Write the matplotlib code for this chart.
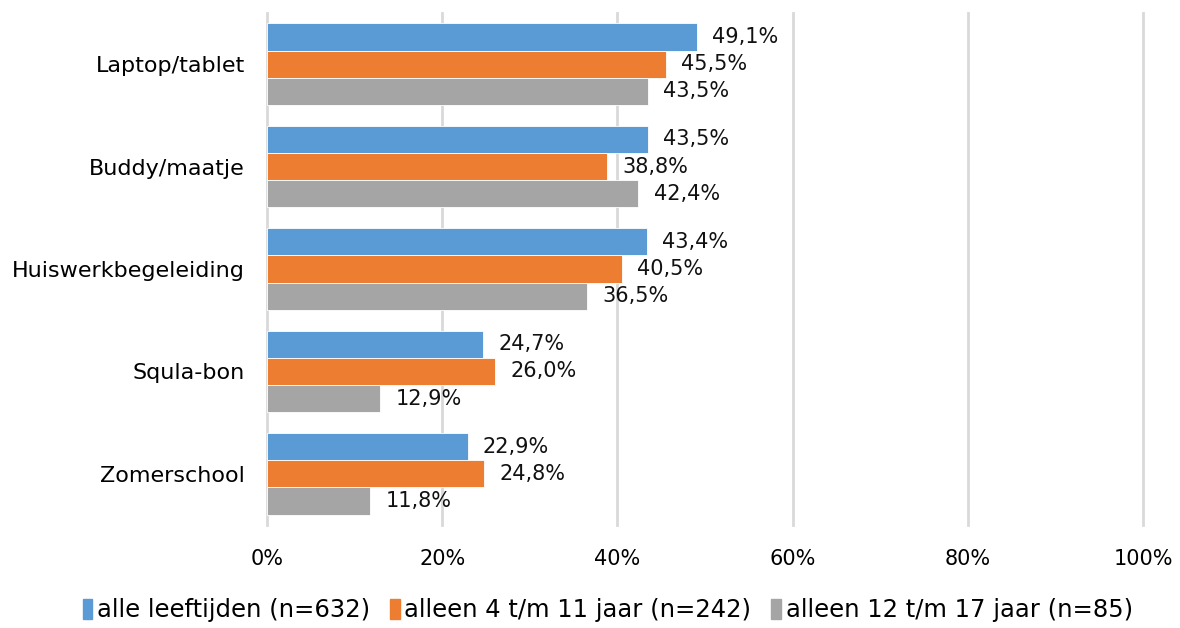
import numpy as np
import matplotlib
matplotlib.use('Agg')
import matplotlib.pyplot as plt
from matplotlib.patches import Patch

plt.rcParams['font.family'] = ['DejaVu Sans']

categories = ['Laptop/tablet', 'Buddy/maatje', 'Huiswerkbegeleiding', 'Squla-bon', 'Zomerschool']
alle = [49.1, 43.5, 43.4, 24.7, 22.9]
jong = [45.5, 38.8, 40.5, 26.0, 24.8]
oud = [43.5, 42.4, 36.5, 12.9, 11.8]
series_names = ['alle leeftijden (n=632)', 'alleen 4 t/m 11 jaar (n=242)', 'alleen 12 t/m 17 jaar (n=85)']
colors = ['#5b9bd5', '#ed7d31', '#a5a5a5']
ticks = [0, 20, 40, 60, 80, 100]

fig = plt.figure(figsize=(11.8, 6.28), dpi=100)
ax = fig.add_axes([267/1180, 1-525/628, (1143-267)/1180, 512/628])

y = np.arange(len(categories))
h = 0.265
for i, (vals, c) in enumerate(zip([alle, jong, oud], colors)):
    pos = y + (i-1)*h
    ax.barh(pos, vals, height=h, color=c, edgecolor='white', linewidth=0.6, zorder=3)
    for p, v in zip(pos, vals):
        ax.annotate(f'{v:.1f}%'.replace('.', ','), (v, p), xytext=(11, 0),
                    textcoords='offset points', va='center', ha='left', fontsize=15, color='#111111')

ax.set_ylim(len(categories)-0.5, -0.5)
ax.set_xlim(0, 100)
ax.set_xticks(ticks)
ax.set_xticklabels([f'{t}%' for t in ticks], fontsize=15)
ax.set_yticks(y)
ax.set_yticklabels(categories, fontsize=16)
ax.tick_params(axis='both', length=0)
ax.tick_params(axis='y', pad=16)
ax.tick_params(axis='x', pad=17)
for t in ticks:
    ax.axvline(t, color='#d9d9d9', linewidth=2, zorder=0, clip_on=False)
for s in ['top', 'right', 'bottom', 'left']:
    ax.spines[s].set_visible(False)

handles = [Patch(color=c) for c in colors]
fig.legend(handles, series_names, loc='center', bbox_to_anchor=(0.515, 1-610/628), ncol=3,
           frameon=False, fontsize=17.5, handlelength=0.4, handleheight=0.9, handletextpad=0.2,
           columnspacing=0.8)

fig.savefig('out.png', dpi=100)
